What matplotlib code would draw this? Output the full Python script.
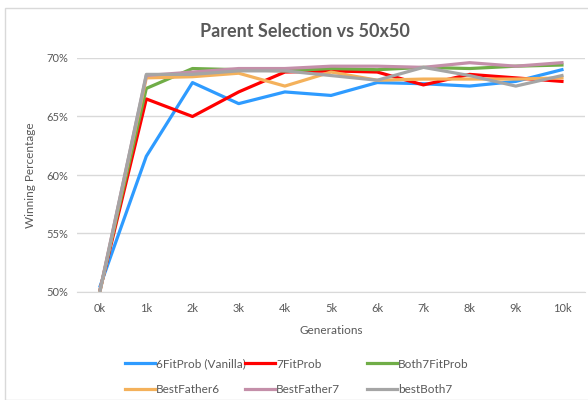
import numpy as np
import matplotlib
matplotlib.use('Agg')
import matplotlib.pyplot as plt
from matplotlib.patches import Rectangle

plt.rcParams['font.family'] = ['Lato', 'DejaVu Sans']

# data
generations = ['0k', '1k', '2k', '3k', '4k', '5k', '6k', '7k', '8k', '9k', '10k']
series_names = ['6FitProb (Vanilla)', '7FitProb', 'Both7FitProb',
                'BestFather6', 'BestFather7', 'bestBoth7']
vanilla6 = [50.5, 61.6, 67.9, 66.1, 67.1, 66.8, 67.9, 67.8, 67.6, 68.0, 69.0]
fitprob7 = [50.2, 66.5, 65.0, 67.1, 68.8, 68.9, 68.8, 67.7, 68.6, 68.3, 68.0]
both7 = [50.2, 67.4, 69.1, 69.0, 68.9, 69.1, 69.0, 69.2, 69.1, 69.3, 69.4]
bestfather6 = [50.1, 68.3, 68.4, 68.7, 67.6, 68.8, 68.1, 68.2, 68.2, 68.2, 68.3]
bestfather7 = [50.2, 68.5, 68.8, 69.1, 69.1, 69.3, 69.3, 69.2, 69.6, 69.3, 69.6]
bestboth7 = [50.1, 68.6, 68.6, 68.9, 68.9, 68.5, 68.1, 69.2, 68.5, 67.6, 68.5]

colors = ['#2E9BFF', '#FF0000', '#70AD47', '#F4B15B', '#C48FA9', '#A5A5A5']
all_series = [vanilla6, fitprob7, both7, bestfather6, bestfather7, bestboth7]

fig = plt.figure(figsize=(5.88, 4.0), dpi=100)
ax = fig.add_axes([0.131, 0.27, 0.864, 0.585])

x = np.arange(len(generations))
lines = []
for name, vals, c in zip(series_names, all_series, colors):
    ln, = ax.plot(x, np.array(vals) / 100, color=c, lw=2.3, label=name,
                  solid_joinstyle='round')
    lines.append(ln)

ax.set_xlim(-0.5, len(generations) - 0.5)
ax.set_ylim(0.5, 0.7)
ax.set_yticks([0.50, 0.55, 0.60, 0.65, 0.70])
ax.set_yticklabels(['50%', '55%', '60%', '65%', '70%'])
ax.set_xticks(x)
ax.set_xticklabels(generations)
ax.tick_params(colors='#595959', labelsize=8, length=0, pad=8)
ax.tick_params(axis='y', pad=6)
ax.grid(axis='y', color='#D9D9D9', lw=1)
ax.set_axisbelow(True)
for s in ['top', 'right', 'left']:
    ax.spines[s].set_visible(False)
ax.spines['bottom'].set_color('#D9D9D9')

ax.set_xlabel('Generations', color='#595959', fontsize=8.5, labelpad=8)
ax.set_ylabel('Winning Percentage', color='#595959', fontsize=8.5, labelpad=8)
fig.text(0.519, 0.922, 'Parent Selection vs 50x50', ha='center', va='center',
         fontsize=13, fontweight='bold', color='#595959')

# legend: two rows of three, one small legend per column
col_x = [0.2126, 0.4167, 0.624]
for k, cx in enumerate(col_x):
    idx = [k, k + 3]
    leg = fig.legend([lines[i] for i in idx], [series_names[i] for i in idx],
                     loc='center left', bbox_to_anchor=(cx, 0.0575),
                     frameon=False, fontsize=8.5, handlelength=2.55,
                     handletextpad=0.1, labelspacing=1.25, borderpad=0,
                     borderaxespad=0)
    for t in leg.get_texts():
        t.set_color('#595959')

fig.add_artist(Rectangle((0.008, 0.0), 1.5, 0.98, transform=fig.transFigure,
                         fill=False, edgecolor='#D9D9D9', lw=1))

fig.savefig('out.png', dpi=100)
